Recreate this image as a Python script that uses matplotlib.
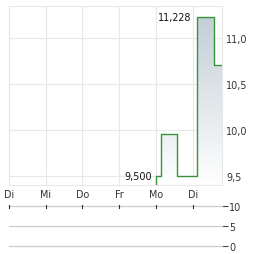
import numpy as np
import matplotlib
matplotlib.use("Agg")
import matplotlib.pyplot as plt
from matplotlib.colors import LinearSegmentedColormap

# weekday axis labels (one per day, x = 0..5)
day_labels = ["Di", "Mi", "Do", "Fr", "Mo", "Di"]
day_pos = [0, 1, 2, 3, 4, 5]

# price steps (x in days, value in EUR)
price_t = [4.0, 4.005, 4.14, 4.57, 5.13, 5.58, 5.80]
price_v = [9.42, 9.50, 9.952, 9.50, 11.228, 10.70, 10.70]

price_ticks = [9.5, 10.0, 10.5, 11.0]
price_tick_labels = ["9,5", "10,0", "10,5", "11,0"]
volume_ticks = [0, 5, 10]
volume_tick_labels = ["0", "5", "10"]

hi_label = "11,228"
lo_label = "9,500"

xmin, xmax = 0.0, 5.80
ymin, ymax = 9.405, 11.345
fs = 6.9

fig = plt.figure(figsize=(2.64, 2.55), dpi=100)
fig.patch.set_facecolor("white")

ax = fig.add_axes([0.034, 0.271, 0.807, 0.702])
ax.set_xlim(xmin, xmax)
ax.set_ylim(ymin, ymax)

grid_col = "#e8e8e8"
for s in ax.spines.values():
    s.set_color(grid_col)
    s.set_linewidth(0.8)
ax.set_xticks(day_pos)
ax.set_xticklabels(day_labels, fontsize=fs, color="#333333")
ax.set_yticks(price_ticks)
ax.set_yticklabels(price_tick_labels, fontsize=fs, color="#333333")
ax.yaxis.tick_right()
ax.tick_params(axis="both", length=0, pad=3)
ax.grid(True, color=grid_col, linewidth=0.8)
ax.set_axisbelow(True)

# gradient fill under the step line
xs = []
ys = []
for i in range(len(price_t)):
    if i > 0:
        xs.append(price_t[i])
        ys.append(price_v[i - 1])
    xs.append(price_t[i])
    ys.append(price_v[i])
fill = ax.fill_between(xs, ys, ymin, color="none", linewidth=0)
cmap = LinearSegmentedColormap.from_list("g", ["#ffffff", "#c3ced6"])
grad = np.linspace(0, 1, 256).reshape(-1, 1)
im = ax.imshow(grad, cmap=cmap, aspect="auto", origin="lower",
               extent=[xmin, xmax, ymin, 11.228], zorder=1)
im.set_clip_path(fill.get_paths()[0], transform=ax.transData)

ax.plot(price_t, price_v, drawstyle="steps-post", color="#379537",
        linewidth=1.0, zorder=3)

ax.text(4.97, 11.228, hi_label, ha="right", va="center", fontsize=fs, color="#111111")
ax.text(3.90, 9.50, lo_label, ha="right", va="center", fontsize=fs, color="#111111")

# volume panel (empty)
vx = fig.add_axes([0.034, 0.030, 0.807, 0.157])
vx.set_xlim(xmin, xmax)
vx.set_ylim(0, 10)
for s in vx.spines.values():
    s.set_visible(False)
vx.set_yticks(volume_ticks)
vx.set_yticklabels(volume_tick_labels, fontsize=fs, color="#333333")
vx.yaxis.tick_right()
vx.tick_params(axis="y", length=4, width=0.8, color="#444444", pad=1)
for v in volume_ticks:
    vx.axhline(v, color="#cccccc", linewidth=0.9, clip_on=False)
vx.set_xticks([])
for d in day_pos:
    vx.plot([d, d], [9.5, 10.4], color="#333333", linewidth=0.8, clip_on=False)

fig.savefig("out.png", dpi=100)
